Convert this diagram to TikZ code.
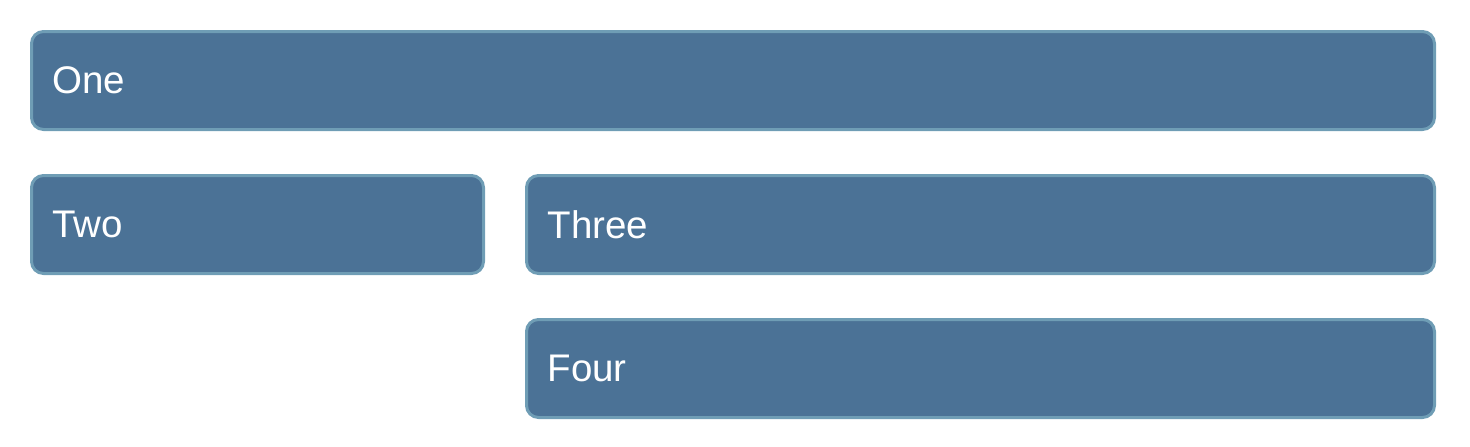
\documentclass[tikz,border=0pt]{standalone}
\usepackage{fontspec}
\setmainfont{Liberation Sans}
\definecolor{boxfill}{HTML}{4B7296}
\definecolor{boxline}{HTML}{6F9DB5}
\begin{document}
\begin{tikzpicture}[x=1pt,y=-1pt,
  panel/.style={draw=boxline, line width=3pt, fill=boxfill, rounded corners=12pt,
    anchor=north west, minimum height=98pt, inner xsep=0pt, inner ysep=0pt,
    text=white, font=\fontsize{38.5}{42}\selectfont, align=left}]
\useasboundingbox (0,0) rectangle (1470,447);
\node[panel, minimum width=1403pt, text width=1361pt] (one) at (30,30) {One};
\node[panel, minimum width=452pt, text width=410pt] (two) at (30,174) {Two};
\node[panel, minimum width=908pt, text width=866pt] (three) at (525,174) {Three};
\node[panel, minimum width=908pt, text width=866pt] (four) at (525,318) {Four};
\end{tikzpicture}
\end{document}
